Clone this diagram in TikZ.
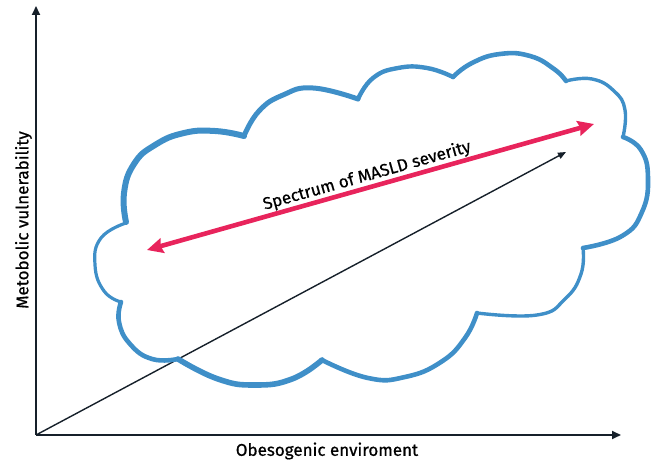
\documentclass[tikz,border=0pt]{standalone}
\usepackage{fontspec}
\setmainfont{Fira Sans}
\newfontfamily\lblfont{Fira Sans}[FakeBold=0.7]
\usetikzlibrary{arrows.meta}
\definecolor{cloudblue}{HTML}{3F8FC8}
\definecolor{spred}{HTML}{E8245C}
\definecolor{axisdark}{HTML}{16202A}
\tikzset{
  axisline/.style={draw=axisdark, line width=1.8pt, -{Triangle[length=9pt,width=8pt]}},
  diagline/.style={draw=axisdark, line width=1.4pt, -{Triangle[length=8pt,width=6.5pt]}},
  redarrow/.style={draw=spred, line width=4.6pt, {Stealth[length=16pt,width=15pt,inset=2pt]}-{Stealth[length=16pt,width=15pt,inset=2pt]}},
  lbl/.style={font=\lblfont\fontsize{17}{20}\selectfont, text=black, inner sep=0pt},
  bump/.style={draw=cloudblue, line cap=round, line join=round},
}
\begin{document}
\begin{tikzpicture}[x=1pt,y=-1pt]
\useasboundingbox (0,0) rectangle (654,462);
\coordinate (O) at (36,435);
\coordinate (yEnd) at (36,6);
\coordinate (xEnd) at (621,435);
\coordinate (dEnd) at (566,152);
\coordinate (rL) at (147,250);
\coordinate (rR) at (594,124);
% axes
\draw[axisline] (O) -- (yEnd);
\draw[axisline] (O) -- (xEnd);
\draw[diagline] (O) -- (dEnd);
% cloud
\draw[bump, line width=6pt] plot[smooth, tension=0.8] coordinates {(126,222) (124,193) (134,164) (155,145) (184,133) (215,131) (244,136)};
\draw[bump, line width=5pt] plot[smooth, tension=0.8] coordinates {(244,136) (259,111) (283,95) (313,88) (358,99)};
\draw[bump, line width=4.4pt] plot[smooth, tension=0.8] coordinates {(358,99) (373,78) (398,68) (427,68) (453,77)};
\draw[bump, line width=4.6pt] plot[smooth, tension=0.8] coordinates {(453,77) (472,63) (500,54) (530,56) (554,69) (566,81)};
\draw[bump, line width=3.4pt] plot[smooth, tension=0.8] coordinates {(566,81) (592,79) (614,91) (625,110) (623,137)};
\draw[bump, line width=4.6pt] plot[smooth, tension=0.8] coordinates {(623,137) (641,150) (648,178) (642,212) (622,236) (583,248)};
\draw[bump, line width=3.4pt] plot[smooth, tension=0.8] coordinates {(583,248) (581,274) (565,299) (537,315) (477,313)};
\draw[bump, line width=4.6pt] plot[smooth, tension=0.8] coordinates {(477,313) (465,338) (441,362) (405,377) (368,378) (322,360)};
\draw[bump, line width=5.6pt] plot[smooth, tension=0.8] coordinates {(322,360) (292,379) (255,385) (218,379) (178,359)};
\draw[bump, line width=4.6pt] plot[smooth, tension=0.8] coordinates {(178,359) (152,359) (130,344) (119,322) (121,302)};
\draw[bump, line width=3.2pt] plot[smooth, tension=0.8] coordinates {(121,302) (104,291) (95,265) (101,238) (126,223)};
% red spectrum arrow
\draw[redarrow] (rL) -- (rR);
\node[lbl, rotate=15.8] (spec) at (367,176) {Spectrum of MASLD severity};
% axis labels
\node[lbl, rotate=90] (ylab) at (23.5,220) {Metobolic vulnerability};
\node[lbl] (xlab) at (327,451) {Obesogenic enviroment};
\end{tikzpicture}
\end{document}
